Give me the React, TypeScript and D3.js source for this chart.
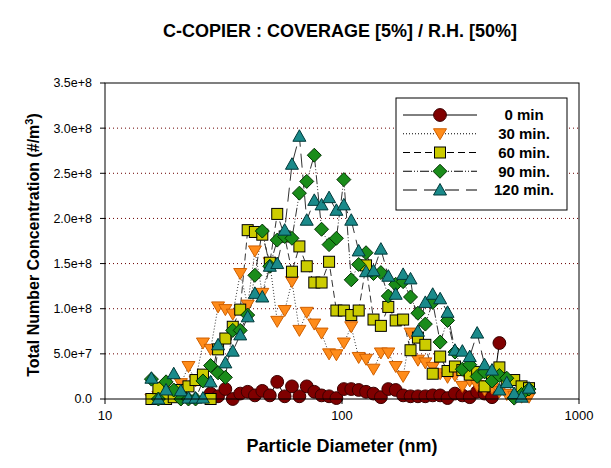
import React from "react";
import * as d3 from "d3";

// SMPS channel mid-point diameters (nm)
const diameters = [15.7, 16.8, 18.1, 19.5, 20.9, 22.5, 24.1, 25.9, 27.9, 30.0, 32.2, 34.6, 37.2, 40.0, 42.9, 46.1, 49.6, 53.3, 57.3, 61.5, 66.1, 71.0, 76.4, 82.0, 88.2, 94.7, 101.8, 109.4, 117.6, 126.3, 135.8, 145.9, 156.8, 168.5, 181.1, 194.6, 209.1, 224.7, 241.4, 259.5, 278.8, 299.6, 322.0, 346.0, 371.8, 399.5, 429.4, 461.4, 495.8, 532.8, 572.5, 615.3];

// Concentrations in units of 1e8 #/m3
const min0Diameters = diameters.slice(8, 48);
const min0 = [0.06, 0.03, 0.11, 0.00, 0.06, 0.08, 0.04, 0.09, 0.04, 0.19, 0.03, 0.14, 0.03, 0.14, 0.08, 0.04, 0.03, 0.01, 0.11, 0.11, 0.10, 0.08, 0.06, 0.02, 0.11, 0.10, 0.04, 0.03, 0.03, 0.03, 0.04, 0.04, 0.01, 0.06, 0.04, 0.02, 0.08, 0.06, 0.02, 0.62];
const min30 = [0.00, 0.03, 0.08, 0.05, 0.17, 0.36, 0.20, 0.62, 0.55, 1.02, 0.99, 0.94, 1.39, 1.04, 1.64, 1.17, 1.51, 0.86, 0.98, 1.30, 0.76, 0.96, 0.83, 0.73, 0.50, 0.49, 0.62, 0.80, 0.46, 0.44, 0.33, 0.51, 0.51, 0.36, 0.25, 0.73, 0.43, 0.40, 0.35, 0.28, 0.24, 0.26, 0.14, 0.20, 0.15, 0.10, 0.12, 0.08, 0.05, 0.03, 0.02, 0.02];
const min60 = [0.00, 0.12, 0.00, 0.02, 0.10, 0.14, 0.21, 0.27, 0.00, 0.55, 0.67, 0.80, 0.99, 1.87, 1.85, 1.82, 1.51, 2.05, 1.80, 1.41, 1.69, 1.47, 1.29, 1.29, 1.52, 0.98, 0.98, 0.93, 0.98, 1.48, 0.88, 0.81, 1.02, 0.87, 0.88, 0.54, 0.68, 0.60, 0.28, 0.47, 0.31, 0.36, 0.32, 0.27, 0.30, 0.14, 0.25, 0.35, 0.19, 0.21, 0.14, 0.12];
const min90 = [0.22, 0.00, 0.19, 0.10, 0.00, 0.00, 0.00, 0.20, 0.37, 0.29, 0.24, 0.76, 0.76, 0.93, 1.37, 1.86, 1.47, 1.76, 1.80, 1.78, 2.28, 2.41, 2.70, 1.88, 1.71, 1.78, 2.43, 1.32, 1.49, 1.62, 1.39, 1.40, 1.14, 1.27, 1.30, 1.13, 0.95, 0.83, 1.07, 0.63, 0.87, 0.52, 0.33, 0.38, 0.25, 0.30, 0.20, 0.26, 0.23, 0.01, 0.05, 0.11];
const min120 = [0.23, 0.00, 0.10, 0.28, 0.09, 0.01, 0.01, 0.01, 0.19, 0.60, 0.40, 0.53, 0.71, 0.91, 1.17, 1.13, 1.47, 1.50, 1.87, 2.60, 2.91, 1.98, 2.20, 2.15, 2.23, 2.09, 2.15, 1.98, 1.64, 1.41, 1.42, 1.66, 1.36, 1.16, 1.38, 1.33, 0.75, 1.07, 1.16, 1.11, 0.96, 0.54, 0.53, 0.47, 0.73, 0.38, 0.32, 0.10, 0.18, 0.06, 0.02, 0.12];
const UNIT = 1e8;

const seriesNames = ["0 min", "30 min.", "60 min.", "90 min.", "120 min."];
const yTicks = [0, 5e7, 1e8, 1.5e8, 2e8, 2.5e8, 3e8, 3.5e8];
const yTickLabels = ["0.0", "5.0e+7", "1.0e+8", "1.5e+8", "2.0e+8", "2.5e+8", "3.0e+8", "3.5e+8"];
const xTicks = [10, 100, 1000];
const xTickLabels = ["10", "100", "1000"];

const title = "C-COPIER : COVERAGE [5%] / R.H. [50%]";

type Style = { fill: string; stroke: string; dash: string; shape: string };
const styles: Style[] = [
  { fill: "#800000", stroke: "#3a0000", dash: "", shape: "circle" },
  { fill: "#FF8C1A", stroke: "#D06000", dash: "1,2", shape: "tridown" },
  { fill: "#CCCC00", stroke: "#000000", dash: "7,4", shape: "square" },
  { fill: "#1A8C1A", stroke: "#003300", dash: "9,2,1,2,1,2", shape: "diamond" },
  { fill: "#1A8A8A", stroke: "#003838", dash: "14,7", shape: "triup" },
];

function Marker({ x, y, s }: { x: number; y: number; s: Style }) {
  const common = { fill: s.fill, stroke: s.stroke, strokeWidth: 1 };
  if (s.shape === "circle") return <circle cx={x} cy={y} r={6.4} {...common} />;
  if (s.shape === "square") return <rect x={x - 5.5} y={y - 5.5} width={11} height={11} {...common} />;
  if (s.shape === "diamond")
    return <path d={`M${x},${y - 7}L${x + 7},${y}L${x},${y + 7}L${x - 7},${y}Z`} {...common} />;
  if (s.shape === "tridown")
    return <path d={`M${x - 6.5},${y - 5}L${x + 6.5},${y - 5}L${x},${y + 6}Z`} {...common} />;
  return <path d={`M${x},${y - 6.5}L${x + 6.5},${y + 5}L${x - 6.5},${y + 5}Z`} {...common} />;
}

export default function App() {
  const W = 611, H = 468;
  const x = d3.scaleLog().domain([10, 1000]).range([105, 579]);
  const y = d3.scaleLinear().domain([0, 3.5e8]).range([399, 83]);

  const data: { d: number; v: number }[][] = [
    min0Diameters.map((d, i) => ({ d, v: min0[i] * UNIT })),
    diameters.map((d, i) => ({ d, v: min30[i] * UNIT })),
    diameters.map((d, i) => ({ d, v: min60[i] * UNIT })),
    diameters.map((d, i) => ({ d, v: min90[i] * UNIT })),
    diameters.map((d, i) => ({ d, v: min120[i] * UNIT })),
  ];
  const line = d3.line<{ d: number; v: number }>().x((p) => x(p.d)).y((p) => y(p.v));

  const legendRows = [115, 133.75, 152.5, 171.25, 190];
  const font = "Arial, 'Liberation Sans', sans-serif";

  return (
    <svg width={W} height={H} style={{ position: "absolute", left: 0, top: 0, background: "#fff" }} fontFamily={font}>
      <rect width={W} height={H} fill="#fff" />
      <text x={340} y={36.5} textAnchor="middle" fontSize={18} fontWeight="bold">{title}</text>

      {/* gridlines */}
      {yTicks.slice(1, -1).map((t) => (
        <line key={t} x1={105} x2={579} y1={y(t)} y2={y(t)} stroke="#6a0000" strokeWidth={1} strokeDasharray="1,3" />
      ))}

      {/* series */}
      {data.map((pts, si) => (
        <path key={"l" + si} d={line(pts) || ""} fill="none" stroke={si === 0 ? "#000" : "#333"} strokeWidth={1} strokeDasharray={styles[si].dash} />
      ))}
      {data.map((pts, si) => (
        <g key={"m" + si}>
          {pts.map((p, i) => (
            <Marker key={i} x={x(p.d)} y={y(p.v)} s={styles[si]} />
          ))}
        </g>
      ))}

      {/* frame */}
      <rect x={105} y={83} width={474} height={316} fill="none" stroke="#000" strokeWidth={1} />

      {/* y axis ticks */}
      {yTicks.map((t, i) => (
        <g key={t}>
          <line x1={100} x2={105} y1={y(t)} y2={y(t)} stroke="#000" />
          <text x={92} y={y(t)} dy="0.35em" textAnchor="end" fontSize={12.5}>{yTickLabels[i]}</text>
        </g>
      ))}
      {/* x axis ticks */}
      {xTicks.map((t, i) => (
        <g key={t}>
          <line x1={x(t)} x2={x(t)} y1={399} y2={404} stroke="#000" />
          <text x={x(t)} y={420} textAnchor="middle" fontSize={13}>{xTickLabels[i]}</text>
        </g>
      ))}

      <text x={342} y={452} textAnchor="middle" fontSize={18} fontWeight="bold">Particle Diameter (nm)</text>
      <text transform="translate(39,245) rotate(-90)" textAnchor="middle" fontSize={16} fontWeight="bold">
        Total Number Concentration (#/m<tspan dy="-6" fontSize={11}>3</tspan><tspan dy="6">)</tspan>
      </text>

      {/* legend */}
      <rect x={396} y={98} width={171} height={112} fill="#fff" stroke="#000" strokeWidth={1} />
      {seriesNames.map((n, i) => (
        <g key={n}>
          <line x1={403} x2={477} y1={legendRows[i]} y2={legendRows[i]} stroke="#000" strokeWidth={1} strokeDasharray={styles[i].dash} />
          <Marker x={440} y={legendRows[i]} s={styles[i]} />
          <text x={524} y={legendRows[i]} dy="0.35em" textAnchor="middle" fontSize={15} fontWeight="bold">{n}</text>
        </g>
      ))}
    </svg>
  );
}
